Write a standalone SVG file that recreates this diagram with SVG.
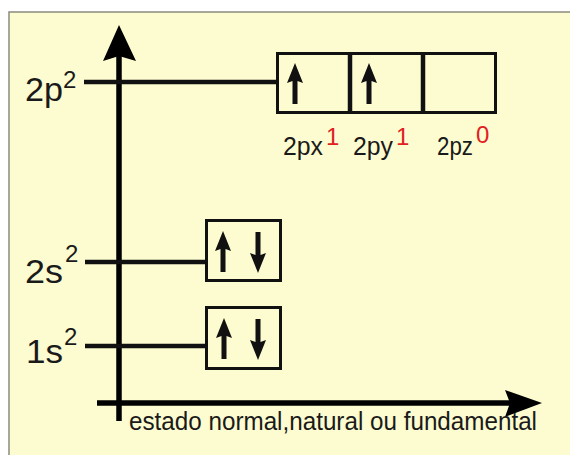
<svg xmlns="http://www.w3.org/2000/svg" xmlns:xlink="http://www.w3.org/1999/xlink" width="570" height="455" viewBox="0 0 570 455">
<style>
.lbl{font-family:"Liberation Sans",Arial,sans-serif;fill:#1a1a1a}
.big{font-size:33px}
.sup{font-size:24px}
.mid{font-size:25px}
.red{fill:#e0201f}
.box{fill:none;stroke:#111;stroke-width:3}
.div{stroke:#111;stroke-width:4.5}
.lvl{stroke:#111;stroke-width:4.5;fill:none}
.axis{stroke:#000;stroke-width:5.5;fill:none}
.e{fill:#111}
</style>
<defs>
<path id="eup" d="M0,0 L8,20 L2.5,18 L2.5,41 L-2.5,41 L-2.5,18 L-8,20 Z"/>
</defs>
<rect x="0" y="0" width="570" height="455" fill="#ffffff"/>
<rect x="9" y="12" width="570" height="450" fill="#fdfcd0" stroke="#8a8a80" stroke-width="1.5"/>

<g id="axes">
<line class="axis" x1="119" y1="50" x2="119" y2="421"/>
<polygon points="119,25 136,61 119,56 103,61" fill="#000"/>
<line class="axis" x1="97" y1="403" x2="515" y2="403"/>
<polygon points="542,403 505,417 510,403 505,390" fill="#000"/>
<text class="lbl mid" x="129" y="430" textLength="408" lengthAdjust="spacingAndGlyphs">estado normal,natural ou fundamental</text>
</g>

<g id="connectors">
<line class="lvl" x1="84" y1="82" x2="278" y2="82"/>
<line class="lvl" x1="85" y1="262" x2="207" y2="262"/>
<line class="lvl" x1="85" y1="346" x2="207" y2="346"/>
</g>

<g id="label-2p">
<text class="lbl big" x="25" y="101" textLength="38" lengthAdjust="spacingAndGlyphs">2p</text>
<text class="lbl sup" x="63" y="88">2</text>
</g>
<g id="label-2s">
<text class="lbl big" x="25" y="283" textLength="38" lengthAdjust="spacingAndGlyphs">2s</text>
<text class="lbl sup" x="65" y="262">2</text>
</g>
<g id="label-1s">
<text class="lbl big" x="26" y="363" textLength="37" lengthAdjust="spacingAndGlyphs">1s</text>
<text class="lbl sup" x="64" y="345">2</text>
</g>

<g id="orbital-2p">
<rect class="box" x="277.5" y="53.5" width="218" height="59"/>
<line class="div" x1="350" y1="53" x2="350" y2="113"/>
<line class="div" x1="423" y1="53" x2="423" y2="113"/>
<use xlink:href="#eup" class="e" x="295" y="63"/>
<use xlink:href="#eup" class="e" x="369" y="63"/>
<text class="lbl mid" x="283" y="155" textLength="40" lengthAdjust="spacingAndGlyphs">2px</text>
<text class="lbl sup red" x="326" y="145">1</text>
<text class="lbl mid" x="353" y="155" textLength="40" lengthAdjust="spacingAndGlyphs">2py</text>
<text class="lbl sup red" x="396" y="145">1</text>
<text class="lbl mid" x="437" y="155" textLength="36" lengthAdjust="spacingAndGlyphs">2pz</text>
<text class="lbl sup red" x="476" y="143">0</text>
</g>

<g id="orbital-2s">
<rect class="box" x="206.5" y="220.5" width="74" height="60"/>
<use xlink:href="#eup" class="e" x="223" y="231"/>
<use xlink:href="#eup" class="e" transform="translate(258,273) rotate(180)"/>
</g>

<g id="orbital-1s">
<rect class="box" x="206.5" y="307.5" width="74" height="61"/>
<use xlink:href="#eup" class="e" x="224" y="318"/>
<use xlink:href="#eup" class="e" transform="translate(258,360) rotate(180)"/>
</g>
</svg>
